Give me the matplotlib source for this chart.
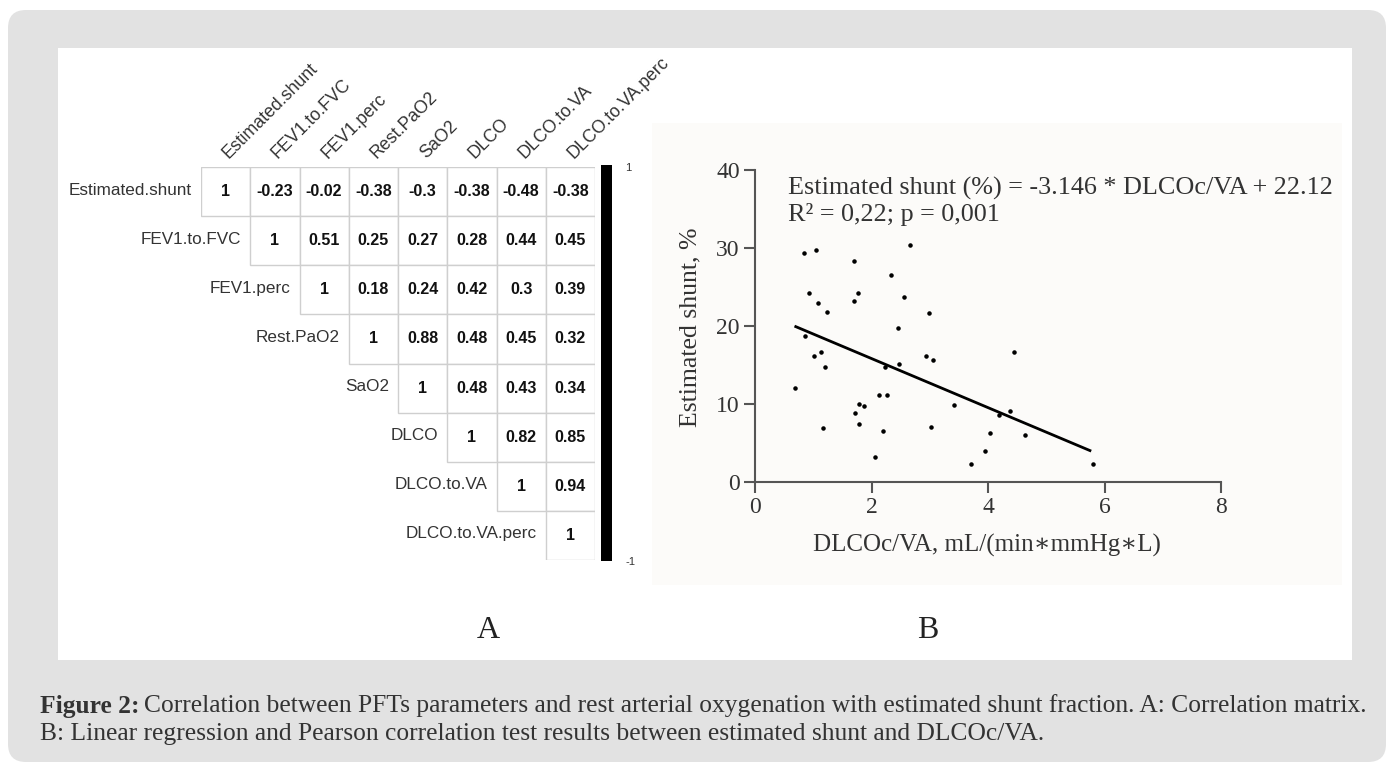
import matplotlib
matplotlib.use("Agg")
import matplotlib.pyplot as plt
from matplotlib.patches import Rectangle, FancyBboxPatch
from matplotlib.transforms import IdentityTransform

# correlation matrix (upper triangle, row by row)
var_names = ['Estimated.shunt', 'FEV1.to.FVC', 'FEV1.perc', 'Rest.PaO2',
             'SaO2', 'DLCO', 'DLCO.to.VA', 'DLCO.to.VA.perc']
corr_upper = [
    [1, -0.23, -0.02, -0.38, -0.3, -0.38, -0.48, -0.38],
    [1, 0.51, 0.25, 0.27, 0.28, 0.44, 0.45],
    [1, 0.18, 0.24, 0.42, 0.3, 0.39],
    [1, 0.88, 0.48, 0.45, 0.32],
    [1, 0.48, 0.43, 0.34],
    [1, 0.82, 0.85],
    [1, 0.94],
    [1],
]

# scatter: DLCOc/VA vs estimated shunt
dlco_va = [0.84, 1.05, 2.66, 1.70, 2.33, 0.92, 1.09, 1.23, 1.77, 1.70,
           2.55, 2.98, 2.45, 0.85, 1.01, 1.13, 1.21, 0.69, 1.17, 1.72,
           1.79, 1.87, 1.79, 2.13, 2.26, 2.19, 2.06, 2.24, 2.47, 2.93,
           3.06, 3.02, 3.42, 4.45, 4.19, 4.37, 4.03, 3.95, 3.71, 4.63, 5.80]
shunt = [29.3, 29.8, 30.4, 28.3, 26.5, 24.2, 22.9, 21.8, 24.2, 23.2,
         23.7, 21.7, 19.7, 18.7, 16.2, 16.7, 14.7, 12.1, 6.9, 8.9,
         10.0, 9.7, 7.4, 11.1, 11.1, 6.5, 3.2, 14.7, 15.1, 16.1,
         15.6, 7.0, 9.9, 16.7, 8.6, 9.1, 6.3, 4.0, 2.3, 6.0, 2.3]
slope, intercept = -3.146, 22.12
fit_x = [0.7, 5.75]

W, H = 1394, 771
def fx(x):
    return x / W
def fy(y):
    return 1 - y / H

fig = plt.figure(figsize=(13.94, 7.71), dpi=100)
fig.patch.set_facecolor('white')

# page style background boxes (pixel coords)
fig.add_artist(FancyBboxPatch((8, H - 762), 1378, 752,
                              boxstyle='round,pad=0,rounding_size=18',
                              fc='#e2e2e2', ec='none', transform=IdentityTransform(), zorder=0))
fig.add_artist(Rectangle((58, H - 660), 1294, 612, fc='white', ec='none',
                         transform=IdentityTransform(), zorder=0))
fig.add_artist(Rectangle((652, H - 585), 690, 462, fc='#fcfbf9', ec='none',
                         transform=IdentityTransform(), zorder=0))

sans = ['Liberation Sans', 'DejaVu Sans']
serif = ['Liberation Serif', 'DejaVu Serif']

# ---------------- A: correlation matrix
n = len(var_names)
axm = fig.add_axes([fx(201), fy(560), (595 - 201) / W, (560 - 167) / H])
axm.set_xlim(0, n)
axm.set_ylim(n, 0)
axm.axis('off')
for i in range(n):
    for k, v in enumerate(corr_upper[i]):
        j = i + k
        axm.add_patch(Rectangle((j, i), 1, 1, fc='white', ec='#cfcfcf', lw=1))
        axm.text(j + 0.5, i + 0.5, f'{v:g}', ha='center', va='center',
                 fontsize=11.5, fontweight='bold', family=sans, color='#111111')
    axm.text(i - 0.18, i + 0.47, var_names[i], ha='right', va='center',
             fontsize=12.3, family=sans, color='#333333')
    axm.text(i + 0.62, -0.1, var_names[i], ha='left', va='bottom', rotation=45,
             rotation_mode='anchor', fontsize=12.8, family=sans, color='#333333')

axc = fig.add_axes([fx(601), fy(561), 11 / W, 396 / H])
axc.set_facecolor('black')
axc.set_xticks([])
axc.set_yticks([])
for s in axc.spines.values():
    s.set_visible(False)
fig.text(fx(625), fy(168), '1', fontsize=8, family=sans, va='center', color='#333333')
fig.text(fx(625), fy(562), '-1', fontsize=8, family=sans, va='center', color='#333333')

# ---------------- B: scatter + regression
axs = fig.add_axes([fx(755), fy(482), (1221 - 755) / W, (482 - 170) / H])
axs.set_facecolor('none')
axs.scatter(dlco_va, shunt, s=5, color='black', clip_on=False, zorder=3)
axs.plot(fit_x, [intercept + slope * x for x in fit_x], color='black', lw=2)
axs.set_xlim(0, 8)
axs.set_ylim(0, 40)
axs.set_xticks([0, 2, 4, 6, 8])
axs.set_yticks([0, 10, 20, 30, 40])
for s in ['top', 'right']:
    axs.spines[s].set_visible(False)
for s in ['left', 'bottom']:
    axs.spines[s].set_color('#555555')
    axs.spines[s].set_linewidth(1.5)
axs.tick_params(direction='out', length=8, width=1.5, color='#555555',
                labelsize=17, labelcolor='#333333', pad=3)
for lab in axs.get_xticklabels() + axs.get_yticklabels():
    lab.set_family(serif)

fig.text(fx(690), fy(327), 'Estimated shunt, %', rotation=90, ha='center', va='center',
         fontsize=18.5, family=serif, color='#333333')
fig.text(fx(987), fy(545), 'DLCOc/VA, mL/(min\u2217mmHg\u2217L)', ha='center', va='center',
         fontsize=18, family=serif, color='#333333')
fig.text(fx(788), fy(188), 'Estimated shunt (%) = -3.146 * DLCOc/VA + 22.12',
         ha='left', va='center', fontsize=18.8, family=serif, color='#333333')
fig.text(fx(788), fy(214), 'R\u00b2 = 0,22; p = 0,001',
         ha='left', va='center', fontsize=18.8, family=serif, color='#333333')

# panel letters
fig.text(fx(488), fy(630), 'A', ha='center', va='center', fontsize=23, family=serif, color='#222222')
fig.text(fx(928), fy(630), 'B', ha='center', va='center', fontsize=23, family=serif, color='#222222')

# caption
cap_size = 18.4
t1 = fig.text(fx(40), fy(706), 'Figure 2:', fontsize=cap_size, fontweight='bold',
              family=serif, color='#333333', va='center')
fig.canvas.draw()
bb = t1.get_window_extent()
fig.text((bb.x1 + 5) / W, fy(706),
         'Correlation between PFTs parameters and rest arterial oxygenation with estimated '
         'shunt fraction. A: Correlation matrix.',
         fontsize=cap_size, family=serif, color='#333333', va='center')
fig.text(fx(40), fy(734),
         'B: Linear regression and Pearson correlation test results between estimated shunt and DLCOc/VA.',
         fontsize=cap_size, family=serif, color='#333333', va='center')

plt.savefig('out.png', dpi=100)
